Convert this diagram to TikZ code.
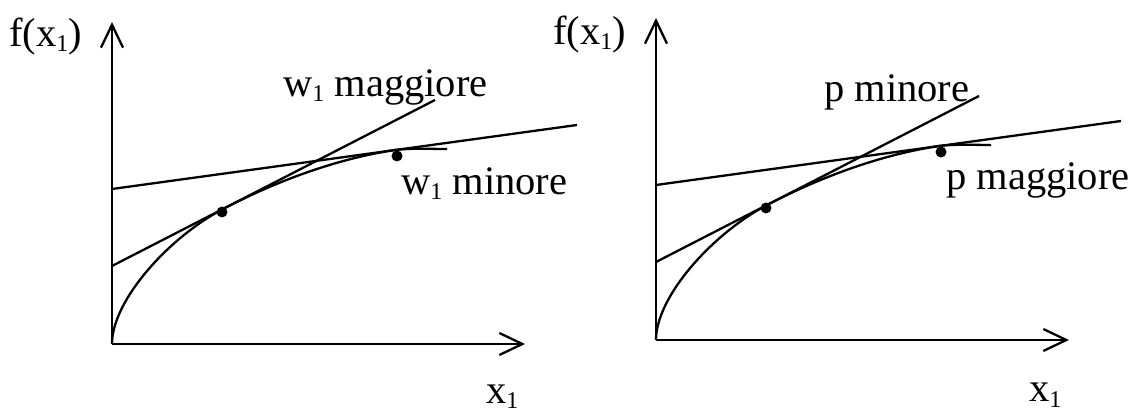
\documentclass[tikz,border=0pt]{standalone}
\usepackage{fontspec}
\setmainfont{Liberation Serif}
\usetikzlibrary{arrows.meta}

\newcommand{\lowidx}[1]{\raisebox{-2.5pt}{\fontsize{12}{12}\selectfont #1}}

\begin{document}
\begin{tikzpicture}[
    x=0.5pt, y=0.5pt, line width=1.15pt,
    axis/.style={-{Straight Barb[length=11.5pt, width=11pt]}},
    dot/.style={circle, fill, inner sep=0pt, minimum size=5.5pt},
    lbl/.style={inner sep=0pt, font=\fontsize{20.25}{24}\selectfont}
]

% Panel Definition
\tikzset{
    panel/.pic={
        \coordinate (-o) at (0, 0);
        \coordinate (-top) at (0, 322);
        \coordinate (-end) at (413, 0);
        \coordinate (-t1) at (113, 136);
        \coordinate (-t2) at (283, 194);
        \coordinate (-tip) at (335, 195);
        \coordinate (-s1) at (0, 78);
        \coordinate (-s2) at (323, 244);
        \coordinate (-f1) at (0, 155);
        \coordinate (-f2) at (465, 219);
        \draw[axis] (-o) -- (-top);
        \draw[axis] (-o) -- (-end);
        \draw (-o) .. controls (0, 44) and (58, 108) .. (-t1)
              .. controls (163, 162) and (223, 185) .. (-t2)
              .. controls (300, 196) and (318, 195) .. (-tip);
        \draw (-s1) -- (-s2);
        \draw (-f1) -- (-f2);
        \node[dot] (-d1) at (110, 132) {};
        \node[dot] (-d2) at (285, 188) {};
    }
}

\useasboundingbox (0, 0) rectangle (1135, 412);

\pic (LeftPlot) at (112, 68) {panel};
\pic (RightPlot) at (656, 72) {panel};

\node[lbl, anchor=base east] (LeftYLabel) at (83, 365) {f(x\lowidx{1})};
\node[lbl, anchor=base west] (LeftXLabel) at (485, 8) {x\lowidx{1}};
\node[lbl, anchor=base west] (LeftSteep) at (282, 315) {w\lowidx{1} maggiore};
\node[lbl, anchor=base west] (LeftFlat) at (400, 217) {w\lowidx{1} minore};

\node[lbl, anchor=base east] (RightYLabel) at (627, 367) {f(x\lowidx{1})};
\node[lbl, anchor=base west] (RightXLabel) at (1028, 10) {x\lowidx{1}};
\node[lbl, anchor=base west] (RightSteep) at (823, 310) {p minore};
\node[lbl, anchor=base west] (RightFlat) at (945, 222) {p maggiore};

\end{tikzpicture}
\end{document}
